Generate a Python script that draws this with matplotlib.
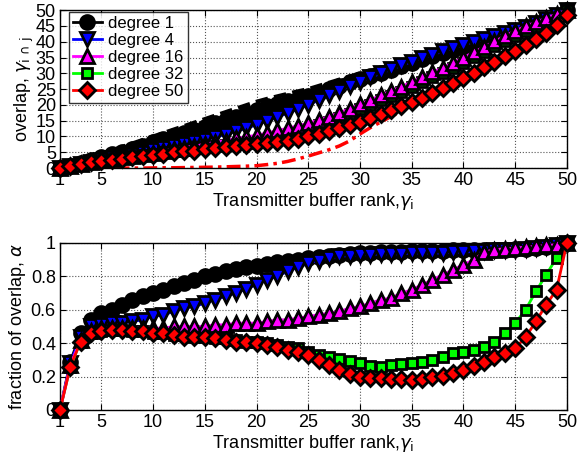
import matplotlib
matplotlib.use('Agg')
import matplotlib.pyplot as plt

plt.rcParams['font.family'] = ['Liberation Sans', 'DejaVu Sans']
plt.rcParams['mathtext.fontset'] = 'dejavusans'

rank = list(range(1, 51))
labels = ['degree 1', 'degree 4', 'degree 16', 'degree 32', 'degree 50']
xticks = [1, 5, 10, 15, 20, 25, 30, 35, 40, 45, 50]

# top panel: overlap
ov_d1 = [0, 0.8, 1.7, 2.5, 3.4, 4.3, 5.2, 6.1, 7.1, 8.1,
         9.1, 10.1, 11.1, 12.1, 13.1, 14.2, 15.2, 16.3, 17.4, 18.5,
         19.5, 20.4, 21.2, 22.0, 22.8, 23.8, 24.9, 26.0, 27.2, 28.3,
         29.0, 30.1, 31.2, 32.2, 33.3, 34.4, 35.4, 36.4, 37.4, 38.4,
         39.4, 40.4, 41.4, 42.4, 43.4, 44.5, 45.6, 46.9, 48.3, 50.0]
ov_d4 = [0, 0.56, 1.3, 2.0, 2.6, 3.1, 3.6, 4.2, 4.9, 5.6,
         6.2, 6.9, 7.6, 8.3, 9.0, 9.8, 10.6, 11.6, 12.6, 13.7,
         14.9, 16.1, 17.4, 18.6, 20.0, 21.5, 23.0, 24.5, 26.0, 27.4,
         28.7, 30.0, 31.3, 32.5, 33.7, 34.8, 35.9, 37.0, 38.0, 39.0,
         40.0, 40.9, 41.9, 42.8, 43.7, 44.8, 45.9, 47.1, 48.5, 50.0]
ov_d16 = [0, 0.54, 1.26, 1.9, 2.45, 2.9, 3.4, 3.9, 4.4, 4.9,
          5.4, 6.0, 6.5, 7.0, 7.5, 8.2, 8.7, 9.4, 9.9, 10.4,
          11.1, 11.9, 12.6, 13.4, 14.2, 15.2, 16.3, 17.5, 18.8, 20.2,
          21.6, 23.0, 24.4, 25.8, 27.3, 28.8, 30.3, 31.8, 33.4, 35.0,
          36.7, 38.4, 40.1, 41.8, 43.5, 44.9, 46.2, 47.5, 48.8, 50.0]
ov_d32 = [0, 0.52, 1.23, 1.84, 2.35, 2.88, 3.36, 3.76, 4.2, 4.6,
          5.0, 5.4, 5.8, 6.2, 6.6, 6.9, 7.3, 7.6, 7.9, 8.2,
          8.6, 9.2, 10.0, 11.0, 12.0, 13.6, 14.7, 15.9, 17.2, 18.6,
          20.0, 21.4, 22.8, 24.2, 25.7, 27.2, 28.7, 30.2, 31.8, 33.4,
          35.1, 36.8, 38.5, 40.2, 41.9, 43.3, 44.6, 45.9, 47.2, 50.0]
ov_d50 = [0, 0.7, 1.4, 1.8, 2.2, 2.7, 3.0, 3.5, 3.9, 4.1,
          4.6, 5.0, 5.3, 5.5, 5.9, 6.2, 6.6, 6.9, 7.2, 7.6,
          8.0, 8.3, 8.7, 9.3, 10.0, 10.8, 11.7, 12.6, 13.6, 14.7,
          15.9, 17.1, 18.3, 19.6, 20.9, 22.3, 23.8, 25.3, 26.9, 28.5,
          30.2, 31.9, 33.6, 35.4, 37.2, 39.0, 40.9, 42.9, 45.2, 48.5]
th_d1 = [0.5, 1.5, 2.5, 3.5, 4.6, 5.6, 6.7, 7.8, 8.9, 10.0,
         11.1, 12.2, 13.3, 14.4, 15.5, 16.6, 17.7, 18.8, 19.9, 21.0,
         21.9, 22.7, 23.5, 24.3, 25.0, 26.0, 27.0, 28.0, 29.0, 30.0,
         30.8, 31.7, 32.6, 33.5, 34.4, 35.4, 36.3, 37.2, 38.1, 39.0,
         39.9, 40.8, 41.7, 42.6, 43.5, 44.6, 45.7, 46.9, 48.3, 50.0]
th_d50 = [0, 0, 0, 0, 0, 0, 0, 0, 0, 0.05,
          0.1, 0.1, 0.15, 0.2, 0.25, 0.3, 0.4, 0.5, 0.6, 0.75,
          1.1, 1.5, 2.1, 2.9, 3.8, 4.8, 5.8, 7.0, 8.6, 10.8,
          12.8, 14.6, 16.3, 18.0, 19.7, 21.6, 23.5, 25.5, 27.5, 29.0,
          30.7, 32.3, 34.0, 35.8, 37.6, 39.4, 41.3, 43.3, 45.6, 49.5]

# bottom panel: fraction of overlap
fr_d1 = [0, 0.29, 0.46, 0.54, 0.58, 0.60, 0.63, 0.66, 0.68, 0.70,
         0.72, 0.74, 0.76, 0.78, 0.80, 0.815, 0.83, 0.845, 0.855, 0.865,
         0.875, 0.885, 0.895, 0.90, 0.91, 0.915, 0.92, 0.93, 0.935, 0.94,
         0.94, 0.945, 0.945, 0.945, 0.95, 0.95, 0.95, 0.95, 0.955, 0.955,
         0.955, 0.96, 0.96, 0.96, 0.965, 0.965, 0.97, 0.975, 0.985, 1.0]
fr_d4 = [0, 0.28, 0.44, 0.50, 0.51, 0.52, 0.52, 0.53, 0.54, 0.56,
         0.57, 0.59, 0.61, 0.62, 0.64, 0.66, 0.68, 0.70, 0.725, 0.75,
         0.78, 0.80, 0.83, 0.855, 0.88, 0.895, 0.91, 0.92, 0.925, 0.93,
         0.93, 0.935, 0.935, 0.935, 0.94, 0.94, 0.94, 0.94, 0.945, 0.945,
         0.95, 0.95, 0.955, 0.96, 0.96, 0.965, 0.97, 0.975, 0.985, 1.0]
fr_d16 = [0, 0.27, 0.42, 0.47, 0.49, 0.49, 0.49, 0.49, 0.49, 0.49,
          0.49, 0.50, 0.50, 0.50, 0.50, 0.51, 0.51, 0.52, 0.52, 0.52,
          0.53, 0.54, 0.54, 0.55, 0.56, 0.57, 0.58, 0.59, 0.61, 0.62,
          0.64, 0.66, 0.67, 0.70, 0.72, 0.75, 0.78, 0.81, 0.84, 0.87,
          0.90, 0.945, 0.96, 0.965, 0.97, 0.975, 0.98, 0.985, 0.99, 1.0]
fr_d32 = [0, 0.26, 0.41, 0.46, 0.47, 0.48, 0.48, 0.47, 0.47, 0.46,
          0.46, 0.45, 0.45, 0.44, 0.44, 0.43, 0.43, 0.42, 0.41, 0.41,
          0.40, 0.39, 0.38, 0.37, 0.35, 0.33, 0.32, 0.305, 0.295, 0.28,
          0.265, 0.26, 0.27, 0.275, 0.28, 0.29, 0.30, 0.32, 0.34, 0.35,
          0.36, 0.38, 0.41, 0.46, 0.52, 0.60, 0.71, 0.81, 0.91, 1.0]
fr_d50 = [0, 0.26, 0.41, 0.46, 0.47, 0.48, 0.48, 0.47, 0.47, 0.46,
          0.46, 0.45, 0.44, 0.44, 0.44, 0.43, 0.42, 0.41, 0.41, 0.40,
          0.39, 0.38, 0.36, 0.35, 0.33, 0.30, 0.27, 0.24, 0.215, 0.195,
          0.19, 0.19, 0.185, 0.185, 0.178, 0.185, 0.195, 0.205, 0.22, 0.24,
          0.265, 0.29, 0.32, 0.34, 0.37, 0.435, 0.53, 0.63, 0.72, 1.0]

colors = ['black', 'blue', 'magenta', '#00ff00', 'red']
markers = ['o', 'v', '^', 's', 'D']
msizes = [10, 10, 10, 7.5, 8]
order = [0, 1, 3, 2, 4]

fig = plt.figure(figsize=(5.78, 4.63), dpi=100)
ax1 = fig.add_axes([0.1038, 0.637, 0.877, 0.341])
ax2 = fig.add_axes([0.1038, 0.1145, 0.877, 0.3607])

top = [ov_d1, ov_d4, ov_d16, ov_d32, ov_d50]
bot = [fr_d1, fr_d4, fr_d16, fr_d32, fr_d50]

ax1.plot(rank, th_d1, color='black', ls=(0, (3, 1.5)), lw=3, zorder=2)
ax1.plot(rank, th_d50, color='red', ls=(0, (4, 1.5, 1, 1.5)), lw=2.5, zorder=2)
handles = [None] * 5
for z, i in enumerate(order):
    h, = ax1.plot(rank, top[i], color=colors[i], lw=2, marker=markers[i],
                  ms=msizes[i], mfc=colors[i], mec='black', mew=2,
                  zorder=3 + z, label=labels[i], clip_on=False)
    handles[i] = h
    ax2.plot(rank, bot[i], color=colors[i], lw=2, marker=markers[i],
             ms=msizes[i], mfc=colors[i], mec='black', mew=2, zorder=3 + z,
             clip_on=False)

leg = ax1.legend(handles=handles, loc='upper left', fontsize=12,
                 bbox_to_anchor=(0.018, 0.99),
                 frameon=True, fancybox=False, edgecolor='black',
                 borderaxespad=0.0, handlelength=1.7, labelspacing=0.12,
                 borderpad=0.25, handletextpad=0.4)
leg.get_frame().set_linewidth(1.0)
leg.set_zorder(20)

for ax in (ax1, ax2):
    ax.set_xlim(1, 50)
    ax.set_xticks(xticks)
    ax.grid(True, ls=':', color='#555555', lw=0.8)
    ax.tick_params(direction='in', labelsize=13, length=4, top=True, right=True, pad=3)
    for s in ax.spines.values():
        s.set_linewidth(1.0)
    ax.set_xlabel(r'Transmitter buffer rank,$\gamma_{\mathrm{i}}$', fontsize=13, labelpad=1)
    ax.set_axisbelow(True)

ax1.set_ylim(0, 50)
ax1.set_yticks(range(0, 51, 5))
ax1.set_ylabel(r'overlap, $\gamma_{\mathrm{i}\,\cap\,\mathrm{j}}$', fontsize=13, labelpad=0)

ax2.set_ylim(0, 1)
ax2.set_yticks([0, 0.2, 0.4, 0.6, 0.8, 1])
ax2.set_yticklabels(['0', '0.2', '0.4', '0.6', '0.8', '1'])
ax2.set_ylabel(r'fraction of overlap, $\alpha$', fontsize=13, labelpad=2)

fig.savefig('out.png', dpi=100)
